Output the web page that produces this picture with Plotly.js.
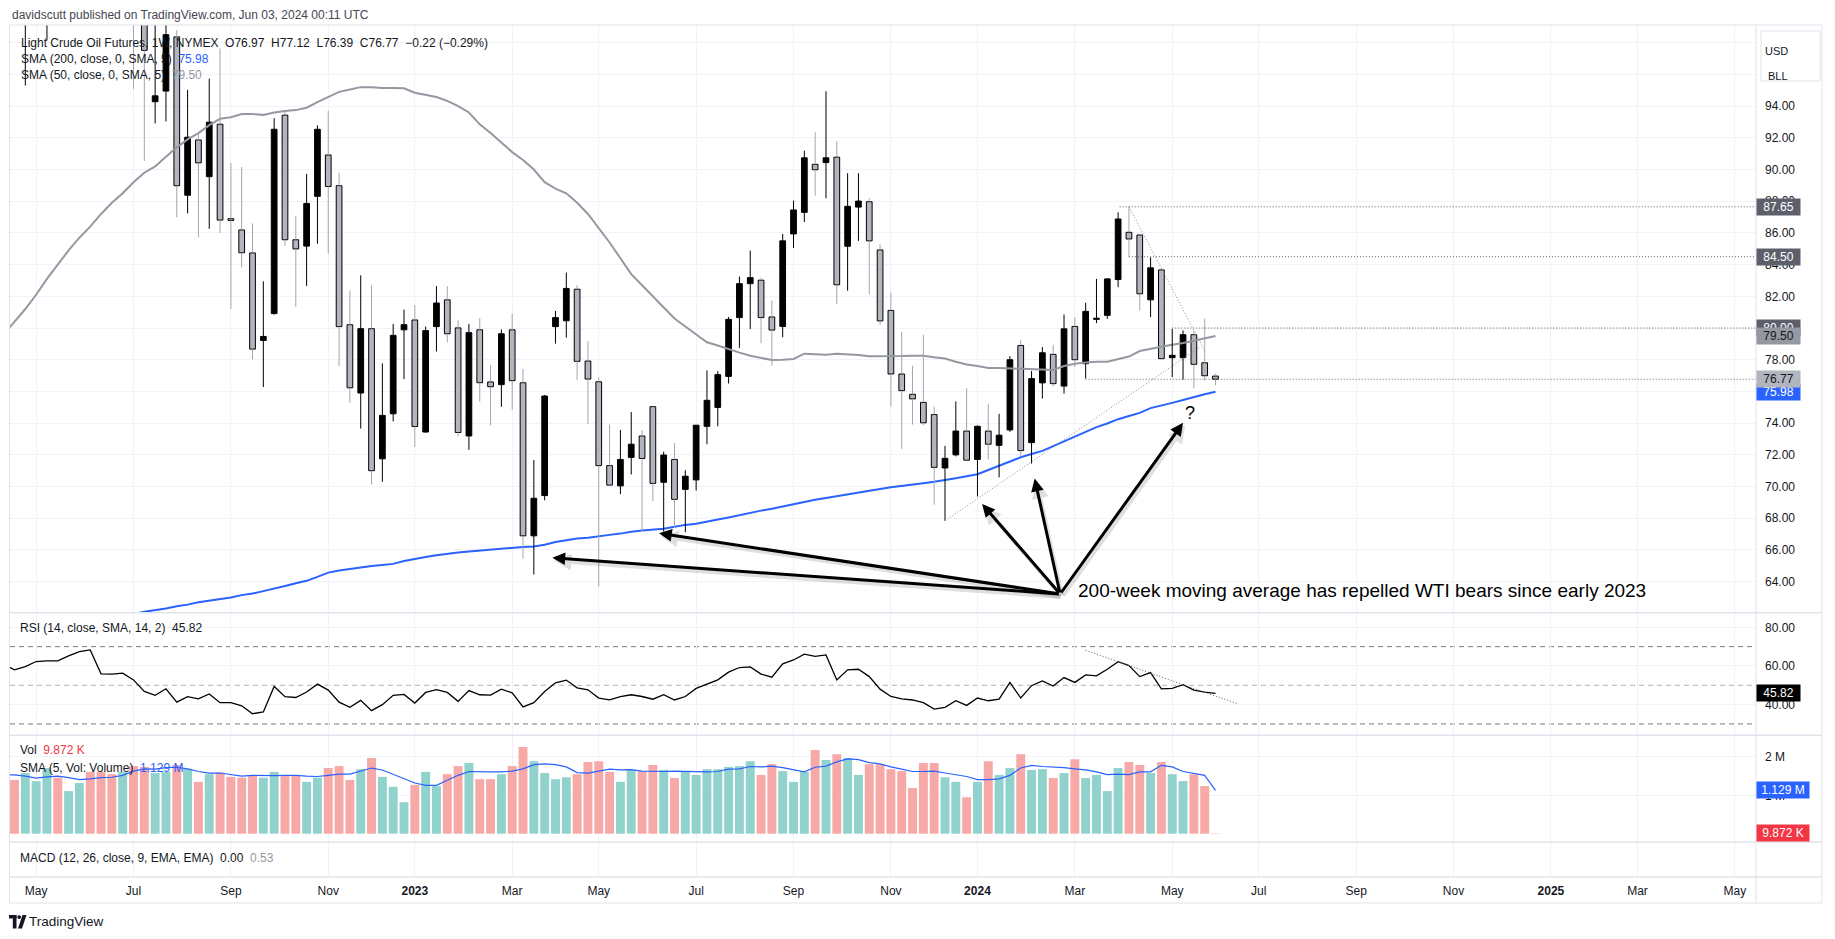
<!DOCTYPE html>
<html><head><meta charset="utf-8">
<script src="https://cdn.plot.ly/plotly-3.0.1.min.js"></script>
<style>html,body{margin:0;padding:0;background:#fff;}#chart{width:1835px;height:939px;}</style>
</head><body><div id="chart"></div>
<script>
// ---------- DATA (weekly, CL1! NYMEX) ----------
const dates = ['2022-04-11','2022-04-18','2022-04-25','2022-05-02','2022-05-09','2022-05-16','2022-05-23','2022-05-30','2022-06-06','2022-06-13','2022-06-20','2022-06-27','2022-07-04','2022-07-11','2022-07-18','2022-07-25','2022-08-01','2022-08-08','2022-08-15','2022-08-22','2022-08-29','2022-09-05','2022-09-12','2022-09-19','2022-09-26','2022-10-03','2022-10-10','2022-10-17','2022-10-24','2022-10-31','2022-11-07','2022-11-14','2022-11-21','2022-11-28','2022-12-05','2022-12-12','2022-12-19','2022-12-26',
'2023-01-02','2023-01-09','2023-01-16','2023-01-23','2023-01-30','2023-02-06','2023-02-13','2023-02-20','2023-02-27','2023-03-06','2023-03-13','2023-03-20','2023-03-27','2023-04-03','2023-04-10','2023-04-17','2023-04-24','2023-05-01','2023-05-08','2023-05-15','2023-05-22','2023-05-29','2023-06-05','2023-06-12','2023-06-19','2023-06-26','2023-07-03','2023-07-10','2023-07-17','2023-07-24','2023-07-31','2023-08-07','2023-08-14','2023-08-21','2023-08-28','2023-09-04','2023-09-11','2023-09-18','2023-09-25','2023-10-02','2023-10-09','2023-10-16','2023-10-23','2023-10-30','2023-11-06','2023-11-13','2023-11-20','2023-11-27','2023-12-04','2023-12-11','2023-12-18','2023-12-25',
'2024-01-01','2024-01-08','2024-01-15','2024-01-22','2024-01-29','2024-02-05','2024-02-12','2024-02-19','2024-02-26','2024-03-04','2024-03-11','2024-03-18','2024-03-25','2024-04-01','2024-04-08','2024-04-15','2024-04-22','2024-04-29','2024-05-06','2024-05-13','2024-05-20','2024-05-27','2024-06-03'];

const open = [98.3,106.9,101.0,104.3,109.0,110.5,110.3,115.0,121.0,120.4,109.6,106.6,108.4,104.5,94.28,94.95,98.37,88.38,91.87,89.55,92.86,86.90,86.19,84.74,79.22,80.91,93.43,85.57,85.17,88.31,90.92,88.98,80.21,75.90,79.96,71.75,74.59,79.89,
80.51,73.44,80.09,81.78,80.01,73.19,79.89,76.60,76.43,79.89,76.55,66.89,69.43,80.09,80.46,82.45,77.92,76.61,71.32,70.04,71.84,73.19,75.04,70.27,71.71,69.82,70.42,73.80,74.99,76.95,80.66,82.80,83.02,80.70,80.10,85.94,87.30,90.33,90.44,90.78,85.16,87.63,87.97,84.93,81.11,77.10,75.82,75.31,74.54,71.17,72.00,73.50,
71.71,73.50,72.60,73.57,78.90,72.77,76.54,78.34,76.34,80.10,77.75,80.55,80.80,83.06,86.04,85.87,81.78,83.67,78.13,78.13,79.58,77.81,76.97];

const high = [108.0,108.8,105.6,111.4,111.0,114.6,115.5,120.0,123.7,123.2,111.0,114.05,111.45,105.0,100.4,100.5,98.8,95.03,92.4,95.73,97.64,90.42,90.17,86.6,82.95,93.24,93.66,87.06,89.72,92.79,93.71,89.80,82.38,83.33,82.70,77.77,80.26,81.16,
81.46,80.09,82.65,82.65,80.51,80.26,80.64,77.67,79.91,80.91,77.42,71.67,75.78,81.08,83.50,82.70,79.17,76.9,73.91,73.57,74.70,73.57,75.06,72.2,72.74,71.03,73.87,77.33,77.28,80.70,83.25,84.89,83.18,81.74,85.94,88.04,91.19,92.35,94.94,91.79,89.77,89.77,88.19,85.27,82.23,79.76,77.62,79.58,75.04,72.56,75.37,76.20,
73.85,75.22,74.59,78.23,79.26,77.29,78.80,78.95,80.86,80.69,81.59,83.10,83.15,87.30,87.65,85.90,84.47,83.70,79.95,79.85,79.80,80.59,77.12];

const low = [93.9,100.9,95.3,99.6,98.15,100.4,107.6,111.5,116.1,108.0,101.53,104.56,95.1,90.55,92.91,93.04,86.99,87.23,85.74,86.26,85.99,81.21,83.82,78.02,76.28,80.85,85.19,81.33,82.65,85.32,84.69,77.60,75.28,73.66,70.13,70.30,74.11,76.78,
72.49,73.40,78.52,79.09,73.17,72.32,75.36,73.86,75.03,74.86,65.45,64.45,69.13,79.02,79.39,76.73,73.94,63.68,70.0,69.52,70.76,67.16,69.08,67.16,67.39,67.12,69.75,72.67,73.80,76.50,78.75,79.94,79.04,77.62,79.42,85.05,86.69,88.35,88.19,81.51,82.35,85.50,82.12,80.2,75.04,72.38,73.91,73.87,68.85,67.84,71.90,71.62,
69.37,71.71,70.58,73.45,71.91,71.45,75.55,76.32,75.86,77.54,76.81,80.31,80.58,82.58,84.47,81.11,80.69,78.00,76.91,76.74,76.18,76.70,76.39];

const close = [106.95,102.07,104.69,109.77,110.49,110.28,115.07,118.87,120.67,109.56,107.62,108.43,104.79,97.52,94.65,98.51,88.98,92.04,90.42,92.99,86.81,86.79,84.75,78.67,79.47,92.54,85.57,84.99,87.86,92.54,88.93,80.09,76.23,79.96,71.00,74.49,79.54,80.21,
73.79,79.84,81.58,79.64,73.41,79.71,76.55,76.30,79.64,76.68,66.89,69.26,75.71,80.66,82.50,77.90,76.78,71.32,70.09,71.71,72.67,71.77,70.20,71.99,69.19,70.65,73.87,75.44,77.06,80.55,82.80,83.18,80.66,79.87,85.50,87.45,90.74,89.99,90.74,82.73,87.68,88.01,85.50,80.45,77.10,76.05,75.53,74.02,71.21,71.78,73.50,71.66,
73.80,72.67,73.24,78.00,72.27,76.81,78.44,76.49,79.95,78.00,81.05,80.62,83.10,86.88,85.62,82.16,83.80,78.07,78.28,79.58,77.71,76.99,76.77];

// volume in millions of contracts
const volume = [1.45,1.40,1.58,1.37,1.71,1.46,1.11,1.32,1.61,1.61,1.55,1.61,1.76,1.74,1.58,1.61,1.79,1.69,1.35,1.55,1.59,1.48,1.46,1.52,1.46,1.61,1.52,1.52,1.35,1.46,1.71,1.76,1.40,1.68,1.97,1.48,1.22,0.82,
1.27,1.61,1.24,1.55,1.76,1.84,1.42,1.42,1.55,1.76,2.26,1.89,1.58,1.42,1.47,1.55,1.87,1.89,1.61,1.35,1.66,1.63,1.79,1.66,1.45,1.63,1.53,1.68,1.68,1.74,1.76,1.89,1.53,1.81,1.63,1.35,1.61,2.18,1.92,2.07,1.97,1.53,1.81,1.81,1.68,1.63,1.19,1.84,1.84,1.47,1.35,0.95,
1.35,1.89,1.53,1.71,2.07,1.66,1.68,1.45,1.58,1.94,1.45,1.53,1.11,1.71,1.87,1.79,1.58,1.87,1.55,1.37,1.55,1.24,0.009872];

const volSma = [1.54,1.53,1.50,1.45,1.48,1.50,1.46,1.41,1.43,1.46,1.47,1.52,1.63,1.69,1.68,1.72,1.73,1.69,1.62,1.58,1.58,1.54,1.50,1.52,1.51,1.51,1.52,1.52,1.50,1.49,1.52,1.55,1.55,1.63,1.71,1.66,1.55,1.43,
1.32,1.26,1.26,1.39,1.52,1.62,1.61,1.61,1.61,1.63,1.69,1.80,1.82,1.80,1.74,1.59,1.58,1.64,1.68,1.66,1.67,1.63,1.62,1.62,1.63,1.62,1.61,1.61,1.62,1.68,1.69,1.75,1.74,1.76,1.72,1.66,1.61,1.73,1.76,1.87,1.95,1.93,1.85,1.82,1.74,1.68,1.62,1.62,1.63,1.58,1.54,1.49,
1.41,1.41,1.43,1.52,1.71,1.78,1.75,1.74,1.72,1.69,1.66,1.61,1.54,1.55,1.54,1.61,1.61,1.78,1.74,1.62,1.57,1.52,1.129];

const rsi = [60.9,58.0,59.7,62.3,62.6,62.6,65.2,67.4,68.3,55.9,55.8,56.3,52.8,46.8,44.8,48.2,41.3,44.1,43.0,45.5,41.0,41.0,39.4,35.3,36.2,49.4,44.1,43.7,46.5,50.6,47.5,41.3,38.6,42.2,36.9,40.0,44.8,45.3,
40.8,46.3,47.7,46.3,41.7,47.3,45.1,44.9,48.0,46.1,38.8,41.0,46.8,51.3,52.7,48.7,47.7,43.4,42.5,44.1,45.1,44.2,42.8,45.1,42.4,44.2,48.4,50.6,52.8,56.8,59.2,59.5,55.8,54.2,61.1,63.1,66.1,65.0,65.7,52.8,58.0,58.3,54.5,48.0,44.2,43.0,42.4,41.0,37.7,38.6,42.0,39.6,
43.4,42.0,42.8,51.5,43.4,49.8,52.3,49.6,54.0,51.5,55.4,54.9,58.3,62.2,60.2,54.5,56.6,48.2,48.4,50.3,47.5,46.5,45.82];

const sma50 = [79.6,80.4,81.2,82.1,83.1,84.0,84.9,85.7,86.4,87.2,87.9,88.5,89.2,89.8,90.2,90.8,91.4,91.9,92.3,92.8,93.2,93.3,93.5,93.5,93.45,93.6,93.7,93.75,93.9,94.25,94.6,94.9,95.05,95.2,95.2,95.15,95.15,95.13,
94.85,94.7,94.58,94.33,94.0,93.6,92.85,92.3,91.7,91.1,90.6,90.0,89.2,88.8,88.5,87.9,87.2,86.3,85.4,84.4,83.4,82.7,82.0,81.3,80.6,80.1,79.6,79.1,78.9,78.65,78.45,78.25,78.1,77.98,78.0,78.05,78.38,78.33,78.32,78.38,78.35,78.3,78.22,78.21,78.21,78.23,78.25,78.25,78.15,78.08,77.87,77.7,
77.6,77.48,77.48,77.46,77.4,77.38,77.36,77.35,77.6,77.75,77.82,77.87,77.87,78.05,78.2,78.55,78.7,78.82,78.95,79.05,79.2,79.35,79.5];

const sma200 = [null,null,null,null,null,null,null,null,null,null,null,61.7,61.95,62.1,62.2,62.3,62.45,62.55,62.7,62.8,62.9,63.0,63.15,63.25,63.4,63.55,63.72,63.9,64.05,64.3,64.57,64.7,64.8,64.92,64.98,65.05,65.12,65.3,
65.44,65.55,65.66,65.77,65.84,65.9,65.96,66.03,66.1,66.16,66.19,66.22,66.33,66.5,66.62,66.72,66.77,66.84,66.95,67.03,67.15,67.22,67.28,67.34,67.46,67.58,67.65,67.8,67.92,68.05,68.2,68.33,68.48,68.6,68.75,68.9,69.05,69.16,69.28,69.4,69.53,69.65,69.75,69.85,69.95,70.05,70.12,70.21,70.3,70.4,70.53,70.65,
70.78,71.04,71.3,71.55,71.85,72.05,72.25,72.55,72.85,73.2,73.5,73.75,73.98,74.25,74.45,74.65,74.95,75.1,75.28,75.46,75.65,75.82,75.98];

// time-axis ticks
const xTickVals = ['2022-05-02','2022-07-04','2022-09-05','2022-11-07','2023-01-02','2023-03-06','2023-05-01','2023-07-03','2023-09-04','2023-11-06','2024-01-01','2024-03-04','2024-05-06','2024-07-01','2024-09-02','2024-11-04','2025-01-06','2025-03-03','2025-05-05'];
const xTickText = ['May','Jul','Sep','Nov','<b>2023</b>','Mar','May','Jul','Sep','Nov','<b>2024</b>','Mar','May','Jul','Sep','Nov','<b>2025</b>','Mar','May'];
const priceGrid = [64,66,68,70,72,74,76,78,80,82,84,86,88,90,92,94,96,98];
const priceLabelMax = 94;

// drawings
const levels = [{d:'2024-04-02',p:87.65},{d:'2024-04-08',p:84.50},{d:'2024-05-06',p:80.00},{d:'2024-03-11',p:76.77}];
const trendDown = {x0:'2024-04-08',y0:87.65,x1:'2024-05-27',y1:78.57};
const trendUp = {x0:'2023-12-11',y0:67.84,x1:'2024-05-24',y1:78.80};
const rsiTrend = {x0:'2024-03-11',y0:68.1,x1:'2024-06-17',y1:40.5};
const arrowTail = {d:'2024-02-23 12:00',p:63.22};
const arrowHeads = [{d:'2023-04-01',p:65.5},{d:'2023-06-09',p:67.05},{d:'2024-01-04',p:68.90},{d:'2024-02-07',p:70.50},{d:'2024-05-13',p:74.02}];
const noteText = '200-week moving average has repelled WTI bears since early 2023';
const notePos = {d:'2024-03-05',p:63.47};
const qPos = {d:'2024-05-17 12:00',p:74.64};

// ---------- GEOMETRY ----------
const W=1835,H=939,L=10,R=1756,T=25,B=877;
const px = v => (v-L)/(R-L);
const py = v => (B-v)/(B-T);
const dom = (a,b) => [(B-b)/(B-T),(B-a)/(B-T)];
const lastT = Date.parse(dates[dates.length-1]+'T00:00:00Z');
const wk = 7*864e5, pxW = 10.82, lastX = 1215.5;
const xRange = [lastT-(lastX-L)/pxW*wk, lastT+(R-lastX)/pxW*wk];
const xEnd = new Date(xRange[1]).toISOString().slice(0,19).replace('T',' ');

// ---------- TRACES ----------
const upWx=[],upWy=[],dnWx=[],dnWy=[];
const bodyBase=[],bodyH=[],bodyCol=[],volCol=[];
for(let i=0;i<dates.length;i++){
  const o=open[i],c=close[i],h=high[i],l=low[i];
  const top=Math.max(o,c),bot=Math.min(o,c),up=c>=o;
  const wx= up?upWx:dnWx, wy= up?upWy:dnWy;
  wx.push(dates[i],dates[i],null,dates[i],dates[i],null);
  wy.push(h,top,null,bot,l,null);
  bodyBase.push(bot); bodyH.push(Math.max(top-bot,0.05));
  bodyCol.push(up?'#000000':'#b2b5be');
  volCol.push(up?'#92d2cc':'#f7a9a7');
}
const traces=[
 {type:'scatter',mode:'lines',x:dates,y:sma50,line:{color:'#9598a1',width:2},xaxis:'x',yaxis:'y',hoverinfo:'skip'},
 {type:'scatter',mode:'lines',x:dates,y:sma200,line:{color:'#2962ff',width:2},xaxis:'x',yaxis:'y',hoverinfo:'skip'},
 {type:'bar',x:dates,base:bodyBase,y:bodyH,width:3.2e8,marker:{color:bodyCol,line:{color:'#000',width:1}},xaxis:'x',yaxis:'y',hoverinfo:'skip'},
 {type:'scatter',mode:'lines',x:upWx,y:upWy,line:{color:'#000',width:1},xaxis:'x',yaxis:'y',hoverinfo:'skip'},
 {type:'scatter',mode:'lines',x:dnWx,y:dnWy,line:{color:'#a3a6af',width:1},xaxis:'x',yaxis:'y',hoverinfo:'skip'},
 {type:'scatter',mode:'lines',x:dates,y:rsi,line:{color:'#000',width:1.3},xaxis:'x',yaxis:'y2',hoverinfo:'skip'},
 {type:'bar',x:dates,y:volume,width:5.0e8,marker:{color:volCol,line:{width:0}},xaxis:'x',yaxis:'y3',hoverinfo:'skip'},
 {type:'scatter',mode:'lines',x:dates,y:volSma,line:{color:'#2962ff',width:1.2},xaxis:'x',yaxis:'y3',hoverinfo:'skip'},
 {type:'scatter',mode:'lines',x:[],y:[],xaxis:'x',yaxis:'y4',hoverinfo:'skip'}
];

// ---------- SHAPES ----------
const shapes=[];
const sepCol='#e0e3eb';
levels.forEach(lv=>shapes.push({type:'line',xref:'x',yref:'y',x0:lv.d,x1:xEnd,y0:lv.p,y1:lv.p,line:{color:'#5d606b',width:1,dash:'1px,2px'}}));
[trendDown,trendUp].forEach(t=>shapes.push({type:'line',xref:'x',yref:'y',x0:t.x0,y0:t.y0,x1:t.x1,y1:t.y1,line:{color:'#8a8d96',width:1,dash:'1px,2px'}}));
shapes.push({type:'line',xref:'x',yref:'y2',x0:rsiTrend.x0,y0:rsiTrend.y0,x1:rsiTrend.x1,y1:rsiTrend.y1,line:{color:'#5d606b',width:1,dash:'1px,2px'}});
[[70,'#787b86'],[50,'#b2b5be'],[30,'#787b86']].forEach(([v,c])=>shapes.push({type:'line',layer:'below',xref:'paper',yref:'y2',x0:0,x1:1,y0:v,y1:v,line:{color:c,width:1,dash:'5px,4px'}}));
[612.7,735.3,842,877].forEach(y=>shapes.push({type:'line',xref:'paper',yref:'paper',x0:px(9.5),x1:px(1822),y0:py(y),y1:py(y),line:{color:sepCol,width:1.5}}));
shapes.push({type:'line',xref:'paper',yref:'paper',x0:1,x1:1,y0:py(903),y1:py(25),line:{color:sepCol,width:1}});
shapes.push({type:'rect',xref:'paper',yref:'paper',x0:px(9.5),x1:px(1822),y0:py(903),y1:py(25),line:{color:sepCol,width:1},fillcolor:'rgba(0,0,0,0)'});
shapes.push({type:'rect',xref:'paper',yref:'paper',x0:px(1761),x1:px(1820),y0:py(81),y1:py(31),line:{color:sepCol,width:1},fillcolor:'rgba(0,0,0,0)'});
// TradingView logo mark
const lc='#131722';
shapes.push({type:'rect',xref:'paper',yref:'paper',x0:px(9),x1:px(16.5),y0:py(918.5),y1:py(915),line:{width:0},fillcolor:lc});
shapes.push({type:'rect',xref:'paper',yref:'paper',x0:px(12.8),x1:px(16.5),y0:py(928.5),y1:py(915),line:{width:0},fillcolor:lc});
shapes.push({type:'circle',xref:'paper',yref:'paper',x0:px(17.3),x1:px(21.1),y0:py(919),y1:py(915.2),line:{width:0},fillcolor:lc});
shapes.push({type:'path',xref:'paper',yref:'paper',path:`M ${px(22.5)} ${py(915)} L ${px(26.5)} ${py(915)} L ${px(22)} ${py(928.5)} L ${px(18)} ${py(928.5)} Z`,line:{width:0},fillcolor:lc});

// ---------- ANNOTATIONS ----------
const ann=[];
const nb='\u00a0\u00a0';
const txt=(x,y,t,size,color)=>({xref:'paper',yref:'paper',x:px(x),y:py(y),text:t,showarrow:false,xanchor:'left',yanchor:'middle',font:{size:size,color:color||'#131722'}});
ann.push(txt(10,14.6,'davidscutt published on TradingView.com, Jun 03, 2024 00:11 UTC',12,'#434651'));
const n=dates.length-1;
const chg=(close[n]-close[n-1]).toFixed(2), chgP=((close[n]-close[n-1])/close[n-1]*100).toFixed(2);
ann.push(txt(18.6,43.3,'Light Crude Oil Futures, 1W, NYMEX'+nb+'O'+open[n].toFixed(2)+nb+'H'+high[n].toFixed(2)+nb+'L'+low[n].toFixed(2)+nb+'C'+close[n].toFixed(2)+nb+chg.replace('-','\u2212')+' ('+chgP.replace('-','\u2212')+'%)',12));
ann.push(txt(18.6,59.2,'SMA (200, close, 0, SMA, 5)'+nb+'<span style="color:#2962ff">'+sma200[n].toFixed(2)+'</span>',12));
ann.push(txt(18.6,75.2,'SMA (50, close, 0, SMA, 5)'+nb+'<span style="color:#9598a1">'+sma50[n].toFixed(2)+'</span>',12));
ann.push(txt(18.3,628,'RSI (14, close, SMA, 14, 2)'+nb+rsi[n].toFixed(2),12));
ann.push(txt(18.3,750,'Vol'+nb+'<span style="color:#f23645">9.872\u00a0K</span>',12));
ann.push(txt(18.3,767.7,'SMA (5, Vol: Volume)'+nb+'<span style="color:#2962ff">'+volSma[n].toFixed(3)+'\u00a0M</span>',12));
ann.push(txt(18.3,858,'MACD (12, 26, close, 9, EMA, EMA)'+nb+'0.00'+nb+'<span style="color:#9598a1">0.53</span>',12));
ann.push(txt(26.5,921.7,'TradingView',13.5,'#131722'));
ann.push({xref:'paper',yref:'paper',x:px(1790.5),y:py(43.5),text:'USD',showarrow:false,font:{size:11,color:'#131722'}});
ann.push({xref:'paper',yref:'paper',x:px(1790.5),y:py(68.5),text:'BLL',showarrow:false,font:{size:11,color:'#131722'}});

// arrows (soft shadows first)
arrowHeads.forEach(h=>ann.push({xref:'x',yref:'y',axref:'x',ayref:'y',x:h.d,y:h.p,ax:arrowTail.d,ay:arrowTail.p,text:'',showarrow:true,arrowhead:2,arrowsize:0.85,arrowwidth:4,arrowcolor:'rgba(0,0,0,0.12)',xshift:2,yshift:-3}));
arrowHeads.forEach(h=>ann.push({xref:'x',yref:'y',axref:'x',ayref:'y',x:h.d,y:h.p,ax:arrowTail.d,ay:arrowTail.p,text:'',showarrow:true,arrowhead:2,arrowsize:0.85,arrowwidth:3,arrowcolor:'#000'}));
ann.push({xref:'x',yref:'y',x:notePos.d,y:notePos.p,text:noteText,showarrow:false,xanchor:'left',yanchor:'middle',font:{size:19,color:'#000',family:'Liberation Sans, Arial, sans-serif'}});
ann.push({xref:'x',yref:'y',x:qPos.d,y:qPos.p,text:'?',showarrow:false,xanchor:'center',yanchor:'middle',font:{size:18,color:'#000',family:'Liberation Sans, Arial, sans-serif'}});

// price-scale tags
const tag=(yref,v,label,bg,fg,w)=>({xref:'paper',yref:yref,x:px(1757+(w||43)/2),y:v,text:label,showarrow:false,xanchor:'center',yanchor:'middle',bgcolor:bg,font:{size:12,color:fg},width:(w||43)-2,height:14,borderpad:1});
ann.push(tag('y',87.65,'87.65','#5d606b','#ffffff'));
ann.push(tag('y',84.50,'84.50','#5d606b','#ffffff'));
ann.push(tag('y',80.00,'80.00','#5d606b','#ffffff'));
ann.push(tag('y',sma50[n],sma50[n].toFixed(2),'#9598a1','#131722'));
ann.push(tag('y',sma200[n],sma200[n].toFixed(2),'#2962ff','#ffffff'));
ann.push(tag('y',close[n],close[n].toFixed(2),'#b2b5be','#131722'));
ann.push(tag('y2',rsi[n],rsi[n].toFixed(2),'#000000','#ffffff'));
ann.push(tag('y3',volSma[n],volSma[n].toFixed(3)+' M','#2962ff','#ffffff',52));
ann.push(tag('y3',volume[n]+0.02,'9.872 K','#f23645','#ffffff',52));

// ---------- LAYOUT ----------
const gridC='#f0f3fa';
const layout={
 width:W,height:H,autosize:false,
 margin:{l:L,r:W-R,t:T,b:H-B,pad:0},
 paper_bgcolor:'#ffffff',plot_bgcolor:'#ffffff',
 font:{family:'Liberation Sans, Arial, sans-serif',size:12,color:'#131722'},
 showlegend:false,hovermode:false,barmode:'overlay',
 xaxis:{type:'date',range:xRange,anchor:'y4',tickmode:'array',tickvals:xTickVals,ticktext:xTickText,showgrid:true,gridcolor:gridC,gridwidth:1,zeroline:false,showline:false,ticks:'',ticklabelstandoff:5,tickfont:{size:12,color:'#131722'}},
 yaxis:{domain:dom(25,612.7),range:[62.04,99.12],side:'right',anchor:'x',tickmode:'array',tickvals:priceGrid,ticktext:priceGrid.map(v=>v<=priceLabelMax?v.toFixed(2):''),showgrid:true,gridcolor:gridC,zeroline:false,showline:false,ticks:'',ticklabelstandoff:8},
 yaxis2:{domain:dom(612.7,735.3),range:[24.13,87.56],side:'right',anchor:'x',tickmode:'array',tickvals:[40,60,80],ticktext:['40.00','60.00','80.00'],showgrid:true,gridcolor:gridC,zeroline:false,showline:false,ticks:'',ticklabelstandoff:8},
 yaxis3:{domain:dom(735.3,842),range:[-0.216,2.5625],side:'right',anchor:'x',tickmode:'array',tickvals:[1,2],ticktext:['1 M','2 M'],showgrid:true,gridcolor:gridC,zeroline:false,showline:false,ticks:'',ticklabelstandoff:8},
 yaxis4:{domain:dom(842,877),range:[0,1],side:'right',anchor:'x',showgrid:false,zeroline:false,showline:false,showticklabels:false,ticks:''},
 shapes:shapes,annotations:ann
};
Plotly.newPlot('chart',traces,layout,{staticPlot:true,displayModeBar:false});
</script></body></html>
